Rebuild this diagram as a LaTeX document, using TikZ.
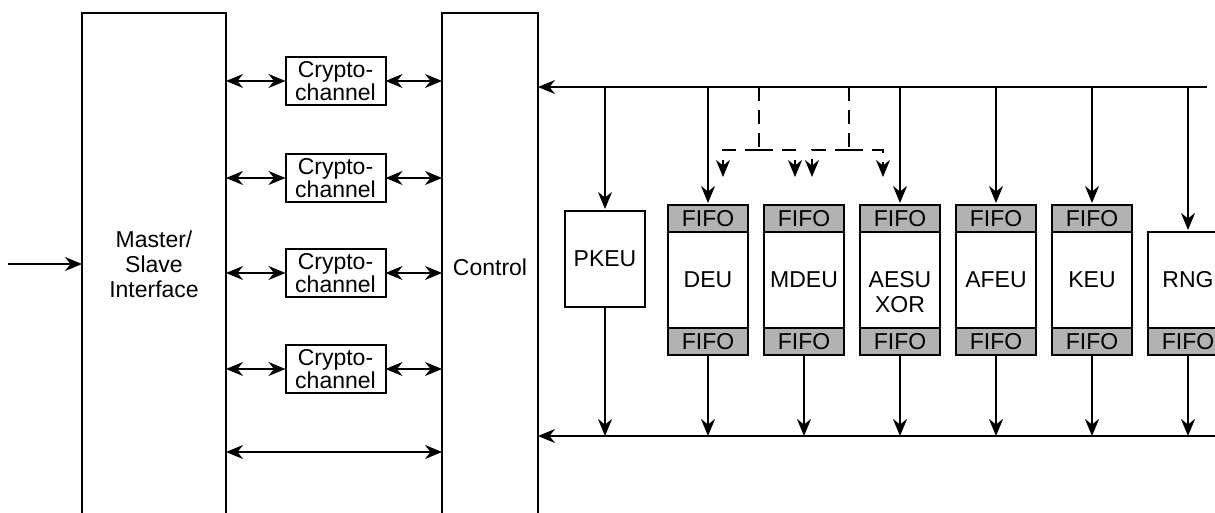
\documentclass[tikz,border=0pt]{standalone}
\usepackage{fontspec}
\setmainfont{Liberation Sans}
\usetikzlibrary{arrows.meta}
\begin{document}
\begin{tikzpicture}[x=1pt,y=-1pt,
  every node/.style={font=\fontsize{23}{25}\selectfont, inner sep=0pt, outer sep=0pt},
  lw/.style={line width=2pt},
  blk/.style={draw, lw},
  cbox/.style={blk, minimum width=100pt, minimum height=48pt, align=center, font=\fontsize{23}{20}\selectfont},
  unit/.style={blk, minimum width=80pt, minimum height=96pt, align=center},
  fifo/.style={blk, fill=gray!60, minimum width=80pt, minimum height=27pt},
  >={Stealth[length=17pt,width=14pt,inset=5.5pt]},
  con/.style={lw, ->},
  dcon/.style={lw, <->},
  dsh/.style={lw, dash pattern=on 14pt off 9pt},
]
\useasboundingbox (0,0) rectangle (1215,512);
\clip (0,0) rectangle (1215,512);

% large blocks
\node[blk, anchor=north west, minimum width=144pt, minimum height=540pt] (ms) at (82,13) {};
\node[align=center] (mstxt) at (154,264) {Master/\\Slave\\Interface};
\node[blk, anchor=north west, minimum width=96pt, minimum height=540pt] (ctl) at (442,13) {};
\node (ctltxt) at (490,267) {Control};

% input
\coordinate (in) at (8,264);
\draw[con] (in) -- (in -| ms.west);

% crypto channels
\foreach \i/\y in {1/81,2/178,3/273,4/369}{
  \node[cbox] (c\i) at (335.5,\y) {Crypto-\\channel};
  \draw[dcon] (ms.east |- c\i) -- (c\i.west);
  \draw[dcon] (c\i.east) -- (c\i -| ctl.west);
}
\coordinate (b5) at (330,452);
\draw[dcon] (ms.east |- b5) -- (ctl.west |- b5);

% buses
\coordinate (tbe) at (1207,87);
\coordinate (bbe) at (1215,436);
\draw[con] (tbe) -- (ctl.east |- tbe);
\draw[con] (bbe) -- (ctl.east |- bbe);

% PKEU
\node[unit] (pkeu) at (605,259) {PKEU};
\draw[con, shorten >=2pt] (pkeu.north |- tbe) -- (pkeu.north);
\draw[con] (pkeu.south) -- (pkeu.south |- bbe);

% units with FIFOs
\foreach \n/\x/\t in {deu/708/DEU, mdeu/804/MDEU, aesu/900/{}, afeu/996/AFEU, keu/1092/KEU}{
  \node[unit] (\n) at (\x,280) {\t};
  \node[fifo, anchor=south] (\n T) at (\n.north) {FIFO};
  \node[fifo, anchor=north] (\n B) at (\n.south) {FIFO};
  \draw[con] (\n B.south) -- (\n B.south |- bbe);
}
\node[align=center] (aesutxt) at ([yshift=-12.5pt]aesu.center) {AESU\\XOR};
\foreach \n in {deu, aesu, afeu, keu}{
  \draw[con, shorten >=2pt] (\n T.north |- tbe) -- (\n T.north);
}

% RNG
\node[unit] (rng) at (1188,280) {RNG};
\node[fifo, anchor=north] (rngB) at (rng.south) {FIFO};
\draw[con] (rngB.south) -- (rngB.south |- bbe);
\draw[con, shorten >=2pt] (rng.north |- tbe) -- (rng.north);

% dashed distribution
\coordinate (t1) at (759,150);
\coordinate (t2) at (849,150);
\coordinate (d1) at (723,177);
\coordinate (d2) at (795,177);
\coordinate (d3) at (812,177);
\coordinate (d4) at (883,177);
\draw[dsh] (t1 |- tbe) -- (t1);
\draw[dsh] (t2 |- tbe) -- (t2);
\draw[dsh, ->] (t1) -| (d1);
\draw[dsh, ->] (t1) -| (d2);
\draw[dsh, ->] (t2) -| (d3);
\draw[dsh, ->] (t2) -| (d4);
\end{tikzpicture}
\end{document}
